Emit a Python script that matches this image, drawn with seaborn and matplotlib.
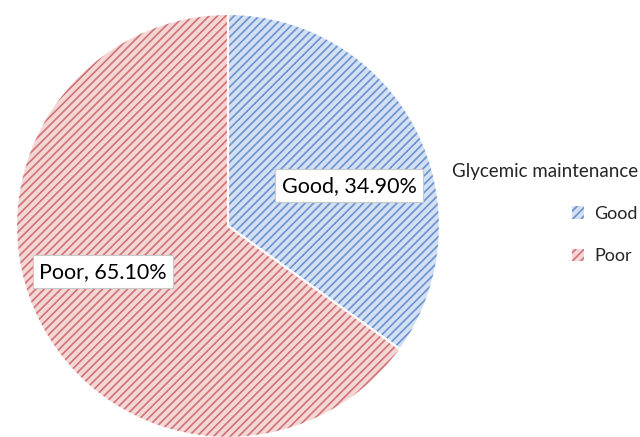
import matplotlib
matplotlib.use("Agg")
import matplotlib.pyplot as plt
import matplotlib.colors as mcolors
import seaborn as sns
from matplotlib.patches import Patch

sns.set_theme(style="white")
plt.rcParams['font.family'] = ['Lato', 'DejaVu Sans']

categories = ["Good", "Poor"]
values = [34.90, 65.10]
legend_title = "Glycemic maintenance"

face_colors = ["#d3e0f4", "#f4d6d6"]
hatch_colors = ["#6a92cd", "#cf7274"]

plt.rcParams['hatch.linewidth'] = 1.2

fig = plt.figure(figsize=(6.4, 4.37), dpi=100)
ax = fig.add_axes([0.025, -0.002, 0.6625, 0.970])

wedges, _ = ax.pie(values, startangle=90, counterclock=False,
                   colors=face_colors,
                   wedgeprops=dict(edgecolor="white", linewidth=1.5))
for w, hc in zip(wedges, hatch_colors):
    w.set_hatch("////")
    w.set_edgecolor("white")
    w._hatch_color = mcolors.to_rgba(hc)
ax.set_xlim(-1.0, 1.0)
ax.set_ylim(-1.0, 1.0)
ax.set_aspect("equal")

label_pos = [(0.571, 0.189), (-0.59, -0.217)]
for cat, v, (x, y) in zip(categories, values, label_pos):
    ax.text(x, y, f"{cat}, {v:.2f}%", ha="center", va="center", fontsize=15.5,
            color="black",
            bbox=dict(boxstyle="square,pad=0.3", facecolor="white",
                      edgecolor="#c8c8c8", linewidth=0.8))

handles = [Patch(facecolor=fc, edgecolor=hc, hatch="////", linewidth=0)
           for fc, hc in zip(face_colors, hatch_colors)]
leg = fig.legend(handles, categories, title=legend_title, loc="upper right",
                 bbox_to_anchor=(1.022, 0.665), frameon=False, fontsize=13,
                 title_fontsize=13.5, labelspacing=1.45, handlelength=0.65,
                 handleheight=0.65, handletextpad=0.6, alignment="right")
for h, hc in zip(leg.legend_handles, hatch_colors):
    h._hatch_color = mcolors.to_rgba(hc)

fig.savefig("out.png", dpi=100)
